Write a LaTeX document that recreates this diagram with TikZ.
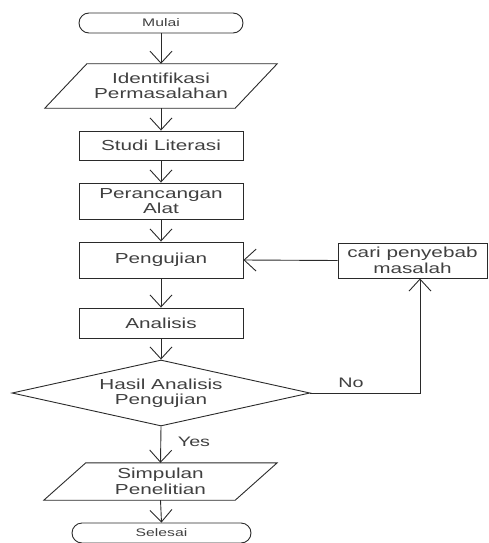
\documentclass[tikz,border=0pt]{standalone}
\usepackage{fontspec}
\setmainfont{Liberation Sans}[FakeStretch=1.43]
\usetikzlibrary{arrows.meta,shapes.geometric,calc}
\definecolor{lc}{HTML}{2A2A2A}
\definecolor{tc}{HTML}{404040}
\begin{document}
\begin{tikzpicture}[x=1pt,y=-1pt,
  line/.style={draw=lc, line width=0.9pt},
  box/.style={line, rectangle, text=tc, font=\fontsize{14.5}{15.5}\selectfont, align=center, inner sep=0pt},
  term/.style={line, rectangle, rounded corners=10pt, text=tc, font=\fontsize{11}{12}\selectfont, inner sep=0pt},
  paratext/.style={rectangle, text=tc, font=\fontsize{14.5}{15.5}\selectfont, align=center, inner sep=0pt},
  decision/.style={line, diamond, aspect=4.5, text=tc, font=\fontsize{14.5}{15.5}\selectfont, align=center, inner sep=0pt},
  lbl/.style={text=tc, font=\fontsize{13.8}{15}\selectfont, inner sep=0pt},
  arr/.style={line, -{Straight Barb[length=12pt,width=22pt,line width=0.9pt]}}
]
\useasboundingbox (0,0) rectangle (489,543);

\node[term, minimum width=164pt, minimum height=20pt] (mulai) at (161,23) {Mulai};
\node[paratext, minimum width=190pt, minimum height=44pt] (ident) at (161,86) {Identifikasi\\Permasalahan};
\draw[line] ($(ident.south west)+(-21,0)$) -- ($(ident.north west)+(21,0)$) -- ($(ident.north east)+(21,0)$) -- ($(ident.south east)+(-21,0)$) -- cycle;
\node[box, minimum width=164pt, minimum height=29pt] (studi) at (161,145.5) {Studi Literasi};
\node[box, minimum width=164pt, minimum height=36pt] (peran) at (161,201) {Perancangan\\Alat};
\node[box, minimum width=164pt, minimum height=36pt] (peng) at (161,260) {Pengujian};
\node[box, minimum width=149pt, minimum height=35pt] (cari) at (412.5,260.5) {cari penyebab\\masalah};
\node[box, minimum width=164pt, minimum height=30pt] (anal) at (161,323) {Analisis};
\node[decision, minimum width=298pt, minimum height=66pt] (dec) at (161,393) {Hasil Analisis\\Pengujian};
\node[paratext, minimum width=191pt, minimum height=37pt] (simp) at (160.5,481.5) {Simpulan\\Penelitian};
\draw[line] ($(simp.south west)+(-21,0)$) -- ($(simp.north west)+(21,0)$) -- ($(simp.north east)+(21,0)$) -- ($(simp.south east)+(-21,0)$) -- cycle;
\node[term, minimum width=179pt, minimum height=20pt] (sel) at (161.5,533) {Selesai};

\node[lbl] (no) at (351,383) {No};
\node[lbl] (yes) at (194,442) {Yes};

\draw[arr] (mulai.south) -- (ident.north);
\draw[arr] (ident.south) -- (studi.north);
\draw[arr] (studi.south) -- (peran.north);
\draw[arr] (peran.south) -- (peng.north);
\draw[arr] (peng.south) -- (anal.north);
\draw[arr] (anal.south) -- (dec.north);
\draw[arr] (dec.south) -- (simp.north);
\draw[arr] (simp.south) -- (sel.north);
\draw[arr] (cari.west) -- (peng.east);
\coordinate (c1) at (420,393);
\draw[arr] (dec.east) -- (c1) -- (c1 |- cari.south);
\end{tikzpicture}
\end{document}
